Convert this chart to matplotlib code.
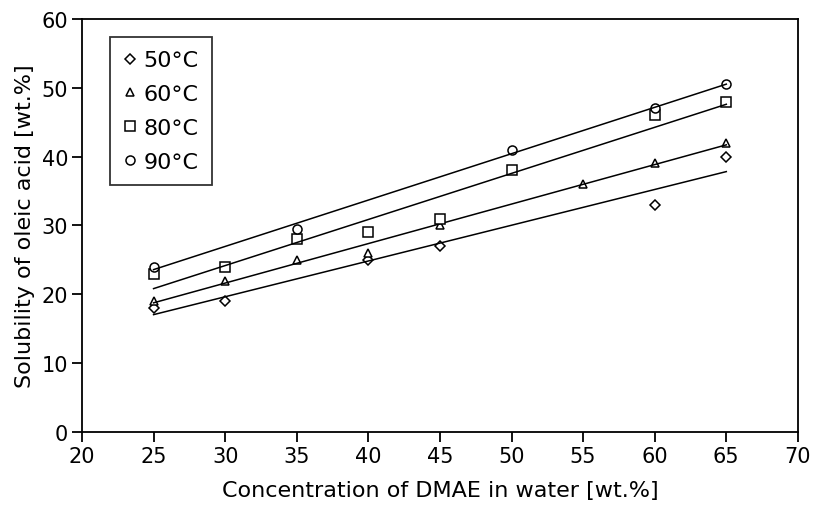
import numpy as np
import matplotlib
matplotlib.use("Agg")
import matplotlib.pyplot as plt

# ---- data ----
x50 = [25, 30, 40, 45, 60, 65]
y50 = [18, 19, 25, 27, 33, 40]
x60 = [25, 30, 35, 40, 45, 55, 60, 65]
y60 = [19, 22, 25, 26, 30, 36, 39, 42]
x80 = [25, 30, 35, 40, 45, 50, 60, 65]
y80 = [23, 24, 28, 29, 31, 38, 46, 48]
x90 = [25, 35, 50, 60, 65]
y90 = [24, 29.5, 41, 47, 50.5]
labels = ["50°C", "60°C", "80°C", "90°C"]
xticks = [20, 25, 30, 35, 40, 45, 50, 55, 60, 65, 70]
yticks = [0, 10, 20, 30, 40, 50, 60]

plt.rcParams["font.family"] = ["DejaVu Sans"]

fig = plt.figure(figsize=(8.15, 5.10), dpi=100)
ax = fig.add_axes([0.1006, 0.151, 0.8784, 0.810])

series = [(x50, y50, "D", 5.5), (x60, y60, "^", 6), (x80, y80, "s", 6.5), (x90, y90, "o", 6.5)]
for (xs, ys, m, ms), lab in zip(series, labels):
    ax.plot(xs, ys, linestyle="none", marker=m, markersize=ms, markerfacecolor="white",
            markeredgecolor="black", markeredgewidth=1.1, label=lab)
    k, b = np.polyfit(xs, ys, 1)
    xl = np.array([min(xs), max(xs)])
    ax.plot(xl, k * xl + b, color="black", linewidth=1.1)

ax.set_xlim(20, 70)
ax.set_ylim(0, 60)
ax.set_xticks(xticks)
ax.set_yticks(yticks)
ax.tick_params(direction="out", length=7, width=1.3, labelsize=15, color="black", pad=3)
for s in ax.spines.values():
    s.set_linewidth(1.3)
ax.set_xlabel("Concentration of DMAE in water [wt.%]", fontsize=16, labelpad=10)
ax.set_ylabel("Solubility of oleic acid [wt.%]", fontsize=16, labelpad=5)

leg = ax.legend(loc="upper left", fontsize=16, frameon=True, fancybox=False,
                edgecolor="black", handlelength=0.6, handletextpad=0.3,
                borderpad=0.6, labelspacing=0.62, borderaxespad=0,
                bbox_to_anchor=(0.039, 0.956))
leg.get_frame().set_linewidth(1.3)

fig.savefig("out.png", dpi=100)
